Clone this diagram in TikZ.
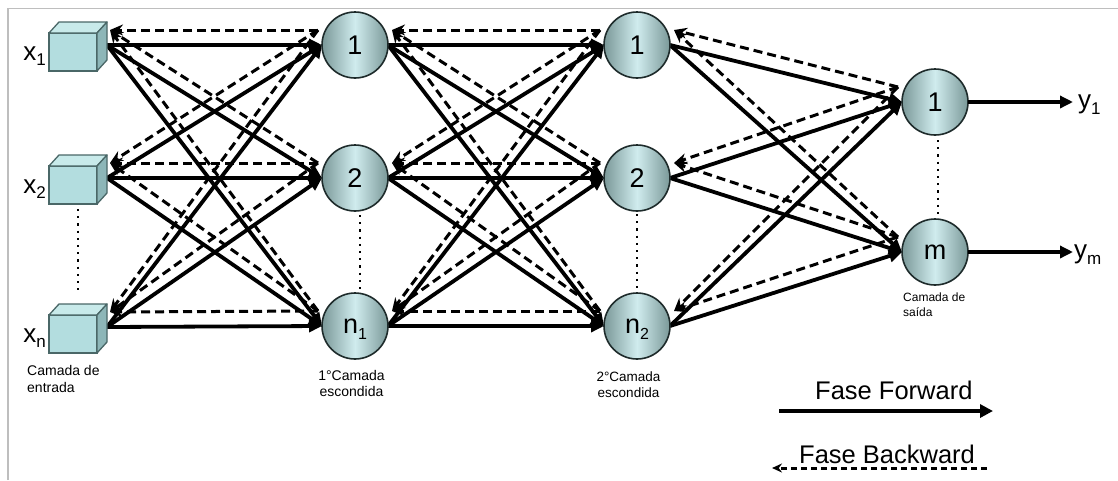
\documentclass[tikz,border=0pt]{standalone}
\usepackage{fontspec}
\setmainfont{Liberation Sans}
\usetikzlibrary{arrows.meta,calc}
\definecolor{cdark}{HTML}{7A9898}
\definecolor{clight}{HTML}{D0ECEE}
\definecolor{cline}{HTML}{1E2B2B}
\definecolor{cubefront}{HTML}{B3DDDF}
\definecolor{cubetop}{HTML}{C8EAEA}
\definecolor{cubeside}{HTML}{8DB6B8}
\definecolor{cubeline}{HTML}{4A6767}
\definecolor{framegray}{HTML}{BEBEBE}
\newcommand\lsub[2][17]{\raisebox{-0.22em}[0pt][0pt]{\fontsize{#1}{#1}\selectfont #2}}
\pgfdeclarelayer{bg}
\pgfsetlayers{bg,main}
\begin{document}
\begin{tikzpicture}[x=1pt,y=-1pt,
  fwd/.style={line width=3.8pt,-{Triangle[length=13pt,width=12pt]}},
  bwd/.style={line width=3pt,dash pattern=on 9pt off 5pt,-{Stealth[length=13pt,width=11pt]}},
  dotline/.style={line width=2.2pt,dash pattern=on 2.2pt off 5pt,black},
  neuron/.style={circle,minimum size=66pt,inner sep=0pt,outer sep=0pt,draw=cline,line width=1.6pt,
    left color=cdark,right color=cdark,middle color=clight,font=\fontsize{27}{27}\selectfont},
  cube/.style={rectangle,minimum width=48pt,minimum height=38pt,inner sep=0pt,outer sep=0pt,
    draw=cubeline,line width=1.3pt,fill=cubefront},
  lbl/.style={font=\fontsize{26}{26}\selectfont,inner sep=0pt},
  captxt/.style={inner sep=0pt}]
\useasboundingbox (0,0) rectangle (1118,480);
\draw[framegray,line width=1.8pt] (8,480) -- (8,8.5) -- (1118,8.5);

% input cubes
\node[cube] (i1) at (73,52) {};
\node[cube] (i2) at (73,185) {};
\node[cube] (i3) at (73,334) {};
\foreach \n in {i1,i2,i3}{
  \filldraw[draw=cubeline,fill=cubetop,line width=1.3pt,line join=round]
    (\n.north west) -- ++(10,-11) -- ($(\n.north east)+(10,-11)$) -- (\n.north east) -- cycle;
  \filldraw[draw=cubeline,fill=cubeside,line width=1.3pt,line join=round]
    (\n.north east) -- ++(10,-11) -- ($(\n.south east)+(10,-11)$) -- (\n.south east) -- cycle;
  \coordinate (\n o) at ($(\n.east)+(10,-7)$);
  \coordinate (\n d) at ($(\n.east)+(13,-22)$);
}
\node[lbl,anchor=base east] (lx1) at (46,60) {x\lsub{1}};
\node[lbl,anchor=base east] (lx2) at (46,193) {x\lsub{2}};
\node[lbl,anchor=base east] (lx3) at (46,342) {x\lsub{n}};

% neurons
\node[neuron] (a1) at (355,45) {1};
\node[neuron] (a2) at (355,178) {2};
\node[neuron] (a3) at (355,326) {n\lsub[16]{1}};
\node[neuron] (b1) at (637,45) {1};
\node[neuron] (b2) at (637,178) {2};
\node[neuron] (b3) at (637,326) {n\lsub[16]{2}};
\node[neuron] (o1) at (935,102) {1};
\node[neuron] (o2) at (935,252) {m};
\foreach \n in {a1,a2,a3,b1,b2,b3,o1,o2}{
  \coordinate (\n ind) at ($(\n.center)+(-37,-15)$);
  \coordinate (\n outd) at ($(\n.center)+(37,-15)$);
}

\begin{pgfonlayer}{bg}
\foreach \s in {1,2,3}{
  \foreach \t in {1,2,3}{
    \draw[fwd] (i\s o) -- (a\t.west);
    \draw[bwd] (a\t ind) -- (i\s d);
    \draw[fwd] (a\s.east) -- (b\t.west);
    \draw[bwd] (b\t ind) -- (a\s outd);
  }
  \foreach \t in {1,2}{
    \draw[fwd] (b\s.east) -- (o\t.west);
    \draw[bwd] (o\t ind) -- (b\s outd);
  }
}
\end{pgfonlayer}

% outputs
\coordinate (y1t) at (1073,102);
\coordinate (ymt) at (1073,252);
\draw[fwd] (o1.east) -- (y1t);
\draw[fwd] (o2.east) -- (ymt);
\node[lbl,anchor=base west] (ly1) at (1078,108.5) {y\lsub{1}};
\node[lbl,anchor=base west] (lym) at (1074,258.5) {y\lsub{m}};

% dotted ellipses
\draw[dotline] ($(i2.south)+(5,5)$) -- ($(i3.north)+(5,-23)$);
\draw[dotline] ($(a2.south)+(5,4)$) -- ($(a3.north)+(5,0)$);
\draw[dotline] ($(b2.south)+(0,3)$) -- ($(b3.north)$);
\draw[dotline] ($(o1.south)+(3,5)$) -- ($(o2.north)+(3,-1)$);

% captions
\node[captxt,anchor=north west,align=left,font=\fontsize{14}{17}\selectfont] (cin) at (27,365) {Camada de\\entrada};
\node[captxt,anchor=north,align=center,font=\fontsize{14}{16.5}\selectfont] (c1) at (351.5,370) {1°Camada\\escondida};
\node[captxt,anchor=north,align=center,font=\fontsize{13.5}{16}\selectfont] (c2) at (628.5,372) {2°Camada\\escondida};
\node[captxt,anchor=north west,align=left,font=\fontsize{12}{15}\selectfont] (cout) at (903,293) {Camada de\\saída};

% legend
\node[captxt,anchor=base west,font=\fontsize{25.5}{25.5}\selectfont] (ff) at (815,399) {Fase Forward};
\node[captxt,anchor=base west,font=\fontsize{25.5}{25.5}\selectfont] (fb) at (799,463) {Fase Backward};
\coordinate (fwa) at (779,411);
\coordinate (fwb) at (993,411);
\draw[line width=4pt,-{Triangle[length=13pt,width=13pt]}] (fwa) -- (fwb);
\coordinate (bwa) at (987,468);
\coordinate (bwb) at (772,468);
\draw[line width=3pt,dash pattern=on 6.5pt off 3.5pt,-{Stealth[length=10pt,width=9pt]}] (bwa) -- (bwb);
\end{tikzpicture}
\end{document}
